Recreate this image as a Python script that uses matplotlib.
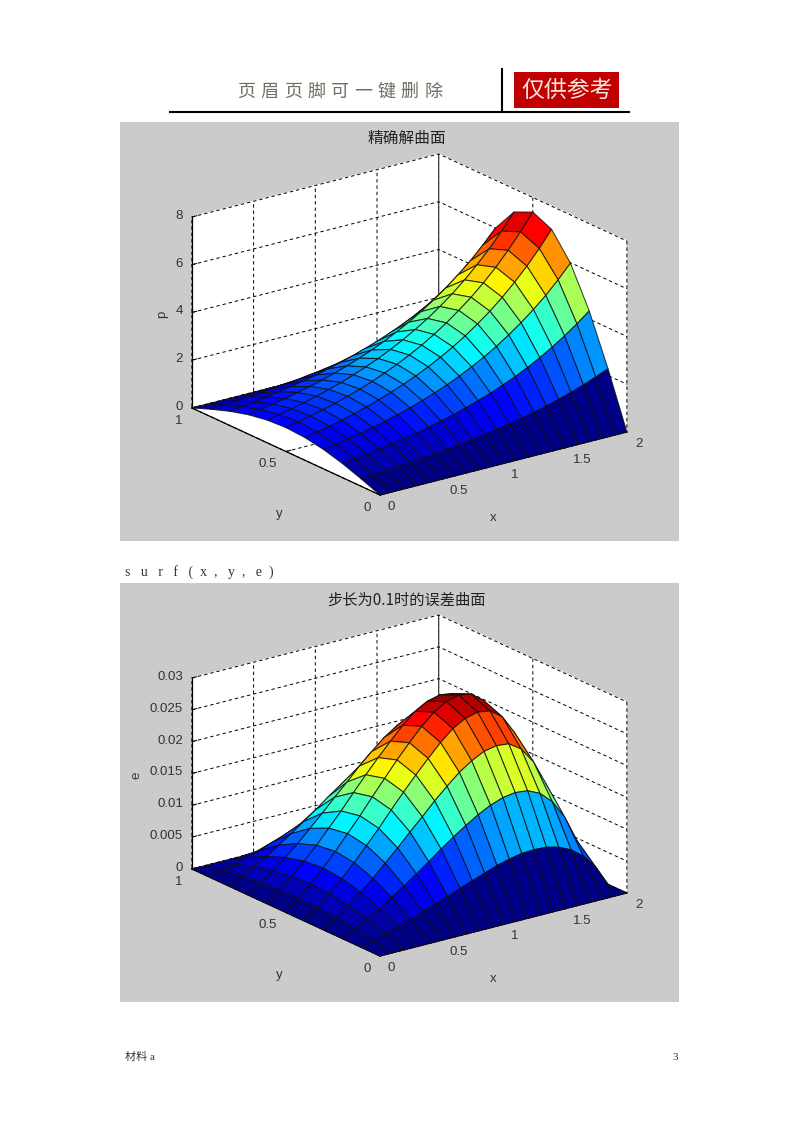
"""Two MATLAB-style surf plots on a scanned document page."""
import matplotlib
matplotlib.use("Agg")
import matplotlib.pyplot as plt
import numpy as np
from matplotlib.colors import LinearSegmentedColormap
from matplotlib.patches import Rectangle
from mpl_toolkits.mplot3d import proj3d

CJK = ["Noto Sans CJK SC", "DejaVu Sans"]
SERIF = ["Liberation Serif", "Noto Sans CJK SC"]

x_grid = np.array([0.0, 0.1, 0.2, 0.3, 0.4, 0.5, 0.6, 0.7, 0.8, 0.9, 1.0,
                   1.1, 1.2, 1.3, 1.4, 1.5, 1.6, 1.7, 1.8, 1.9, 2.0])
y_grid = np.array([0.0, 0.1, 0.2, 0.3, 0.4, 0.5, 0.6, 0.7, 0.8, 0.9, 1.0])

# rows = x, columns = y
p_vals = np.array([
    [0, .31, .59, .81, .95, 1.00, .95, .81, .59, .31, 0],
    [0, .34, .65, .89, 1.05, 1.11, 1.05, .89, .65, .34, 0],
    [0, .38, .72, .99, 1.16, 1.22, 1.16, .99, .72, .38, 0],
    [0, .42, .79, 1.09, 1.28, 1.35, 1.28, 1.09, .79, .42, 0],
    [0, .46, .88, 1.21, 1.42, 1.49, 1.42, 1.21, .88, .46, 0],
    [0, .51, .97, 1.33, 1.57, 1.65, 1.57, 1.33, .97, .51, 0],
    [0, .56, 1.07, 1.47, 1.73, 1.82, 1.73, 1.47, 1.07, .56, 0],
    [0, .62, 1.18, 1.63, 1.92, 2.01, 1.92, 1.63, 1.18, .62, 0],
    [0, .69, 1.31, 1.80, 2.12, 2.23, 2.12, 1.80, 1.31, .69, 0],
    [0, .76, 1.45, 1.99, 2.34, 2.46, 2.34, 1.99, 1.45, .76, 0],
    [0, .84, 1.60, 2.20, 2.59, 2.72, 2.59, 2.20, 1.60, .84, 0],
    [0, .93, 1.77, 2.43, 2.86, 3.00, 2.86, 2.43, 1.77, .93, 0],
    [0, 1.03, 1.95, 2.69, 3.16, 3.32, 3.16, 2.69, 1.95, 1.03, 0],
    [0, 1.13, 2.16, 2.97, 3.49, 3.67, 3.49, 2.97, 2.16, 1.13, 0],
    [0, 1.25, 2.38, 3.28, 3.86, 4.06, 3.86, 3.28, 2.38, 1.25, 0],
    [0, 1.38, 2.63, 3.63, 4.26, 4.48, 4.26, 3.63, 2.63, 1.38, 0],
    [0, 1.53, 2.91, 4.01, 4.71, 4.95, 4.71, 4.01, 2.91, 1.53, 0],
    [0, 1.69, 3.22, 4.43, 5.21, 5.47, 5.21, 4.43, 3.22, 1.69, 0],
    [0, 1.87, 3.56, 4.89, 5.75, 6.05, 5.75, 4.89, 3.56, 1.87, 0],
    [0, 2.07, 3.93, 5.41, 6.36, 6.69, 6.36, 5.41, 3.93, 2.07, 0],
    [0, 2.28, 4.34, 5.98, 7.03, 7.39, 7.03, 5.98, 4.34, 2.28, 0],
])

e_vals = np.array([
    [0, 0, 0, 0, 0, 0, 0, 0, 0, 0, 0],
    [0, .0005, .0010, .0014, .0016, .0017, .0016, .0014, .0010, .0005, 0],
    [0, .0011, .0021, .0028, .0033, .0035, .0033, .0028, .0021, .0011, 0],
    [0, .0017, .0032, .0044, .0052, .0055, .0052, .0044, .0032, .0017, 0],
    [0, .0023, .0045, .0061, .0072, .0076, .0072, .0061, .0045, .0023, 0],
    [0, .0031, .0058, .0080, .0094, .0099, .0094, .0080, .0058, .0031, 0],
    [0, .0038, .0072, .0099, .0116, .0122, .0116, .0099, .0072, .0038, 0],
    [0, .0045, .0086, .0119, .0140, .0147, .0140, .0119, .0086, .0045, 0],
    [0, .0053, .0101, .0138, .0163, .0171, .0163, .0138, .0101, .0053, 0],
    [0, .0060, .0115, .0158, .0185, .0195, .0185, .0158, .0115, .0060, 0],
    [0, .0067, .0128, .0176, .0206, .0217, .0206, .0176, .0128, .0067, 0],
    [0, .0074, .0140, .0193, .0226, .0238, .0226, .0193, .0140, .0074, 0],
    [0, .0079, .0150, .0206, .0243, .0255, .0243, .0206, .0150, .0079, 0],
    [0, .0083, .0157, .0216, .0254, .0267, .0254, .0216, .0157, .0083, 0],
    [0, .0084, .0160, .0220, .0259, .0272, .0259, .0220, .0160, .0084, 0],
    [0, .0083, .0158, .0218, .0256, .0269, .0256, .0218, .0158, .0083, 0],
    [0, .0078, .0149, .0205, .0242, .0254, .0242, .0205, .0149, .0078, 0],
    [0, .0069, .0131, .0180, .0212, .0223, .0212, .0180, .0131, .0069, 0],
    [0, .0054, .0102, .0141, .0165, .0174, .0165, .0141, .0102, .0054, 0],
    [0, .0032, .0060, .0083, .0097, .0102, .0097, .0083, .0060, .0032, 0],
    [0, 0, 0, 0, 0, 0, 0, 0, 0, 0, 0],
])

x_ticks = [0, 0.5, 1, 1.5, 2]
x_labels = ["0", "0.5", "1", "1.5", "2"]
y_ticks = [0, 0.5, 1]
y_labels = ["0", "0.5", "1"]
p_ticks = [0, 2, 4, 6, 8]
p_labels = ["0", "2", "4", "6", "8"]
e_ticks = [0, 0.005, 0.01, 0.015, 0.02, 0.025, 0.03]
e_labels = ["0", "0.005", "0.01", "0.015", "0.02", "0.025", "0.03"]

title_p = "精确解曲面"
title_e = "步长为0.1时的误差曲面"
header_text = "页眉页脚可一键删除"
stamp_text = "仅供参考"
code_text = "s   u   r   f   (  x  ,   y  ,   e  )"

# MATLAB's jet, which is not quite matplotlib's
matlab_jet = LinearSegmentedColormap.from_list("matlab_jet", [
    (0.0, (0, 0, 0.53)), (0.125, (0, 0, 1)), (0.375, (0, 1, 1)), (0.625, (1, 1, 0)),
    (0.875, (1, 0, 0)), (1.0, (0.5, 0, 0))], N=256)

W, H = 800, 1132
TXT = "#333333"
plt.rcParams["grid.color"] = "k"
plt.rcParams["grid.linewidth"] = 0.7
plt.rcParams["grid.linestyle"] = (0, (3.5, 3))
plt.rcParams["font.family"] = ["Liberation Sans", "DejaVu Sans"]

fig = plt.figure(figsize=(W / 100, H / 100), dpi=100, facecolor="white")
bg = fig.add_axes([0, 0, 1, 1])
bg.set_xlim(0, W)
bg.set_ylim(H, 0)
bg.axis("off")


def corners_px(ax, pts):
    xs, ys, _ = proj3d.proj_transform(*np.array(pts, float).T, ax.get_proj())
    return ax.transData.transform(np.c_[xs, ys])


def tick_labels(ax, pts, labels, dx, dy, ha):
    # tick labels sit at a fixed pixel offset from the projected tick
    for (px, py), lab in zip(corners_px(ax, pts), labels):
        bg.text(px + dx, H - py + dy, lab, fontsize=9.5, color=TXT, ha=ha, va="center")


def surf_panel(top, Z, zticks, zlabels, zname, zname_x):
    bottom_px = top + 373   # pixel row of the (x=0, y=0) corner
    side = 600.0
    ax = fig.add_axes([100 / W, 1 - (top + 500) / H, side / W, side / H], projection="3d")
    ax.patch.set_alpha(0)
    ax.set_proj_type("ortho")
    ax.view_init(elev=20.1, azim=-126.6)
    ax.set_box_aspect((307, 315, 203))
    ax.set_xlim(0, 2)
    ax.set_ylim(0, 1)
    ax.set_zlim(zticks[0], zticks[-1])

    X, Y = np.meshgrid(x_grid, y_grid, indexing="ij")
    lev = np.floor((Z - Z.min()) / (Z.max() - Z.min()) * 63.999) / 63
    surf = ax.plot_surface(X, Y, Z, rstride=1, cstride=1, shade=False,
                           facecolors=matlab_jet(lev), linewidth=0.75, antialiased=True)
    surf.set_edgecolor((0.05, 0.05, 0.05, 0.8))

    ax.set_xticks(x_ticks)
    ax.set_yticks(y_ticks)
    ax.set_zticks(zticks)
    for axis in (ax.xaxis, ax.yaxis, ax.zaxis):
        axis.set_ticklabels([])
        axis.set_pane_color((1, 1, 1, 1))
        axis.pane.set_edgecolor((1, 1, 1, 0))
        axis.line.set_color("k")
        axis.line.set_linewidth(0.9)
        axis._axinfo["tick"]["inward_factor"] = 0.0
        axis._axinfo["tick"]["outward_factor"] = 0.25
        axis._axinfo["tick"]["linewidth"] = {True: 0.7, False: 0.7}

    # scale and shift the axes so the box corners land on the page pixels
    a, b, c = corners_px(ax, [(0, 0, 0), (2, 0, 0), (0, 1, 0)])
    side = side * 435.0 / (b[0] - c[0])
    ax.set_position([100 / W, 1 - (top + 500) / H, side / W, side / H])
    a = corners_px(ax, [(0, 0, 0)])[0]
    pos = ax.get_position()
    ax.set_position([pos.x0 + (380 - a[0]) / W, pos.y0 + (H - bottom_px - a[1]) / H,
                     side / W, side / H])

    tick_labels(ax, [(t, 0, 0) for t in x_ticks], x_labels, 8, 12, "left")
    tick_labels(ax, [(0, t, 0) for t in y_ticks], y_labels, -9, 13, "right")
    tick_labels(ax, [(0, 1, t) for t in zticks], zlabels, -9, -1, "right")
    bg.text(493, top + 396, "x", fontsize=9.5, color=TXT, ha="center", va="center")
    bg.text(279, top + 392, "y", fontsize=9.5, color=TXT, ha="center", va="center")
    bg.text(zname_x, top + 192, zname, fontsize=9.5, color=TXT, rotation=90, ha="center", va="center")
    return ax


# page furniture
for ptop in (122, 583):
    bg.add_patch(Rectangle((120, ptop), 559, 419, fc="#cbcbcb", ec="none"))
bg.plot([170, 629], [112, 112], color="k", lw=1.5)
bg.plot([502, 502], [69, 112], color="k", lw=1.5)
bg.add_patch(Rectangle((514, 72), 105, 36, fc="#c00000", ec="none"))
for i, ch in enumerate(header_text):
    bg.text(246 + i * 23.4, 92, ch, family=CJK, fontsize=13, color="#6e6e62", ha="center", va="center")
bg.text(567, 90, stamp_text, family=CJK, fontsize=16.5, color="#f6e8e0", ha="center", va="center")
bg.text(407, 138, title_p, family=CJK, fontsize=11.3, color="#222222", ha="center", va="center")
bg.text(407, 600, title_e, family=CJK, fontsize=11, color="#222222", ha="center", va="center")
bg.text(125, 572, code_text, family=SERIF, fontsize=10, color=TXT, va="center")
bg.text(125, 1057, "材料 a", family=SERIF, fontsize=8, color=TXT, va="center")
bg.text(675, 1057, "3", family=SERIF, fontsize=8, color=TXT, va="center", ha="center")

surf_panel(122, p_vals, p_ticks, p_labels, "p", 162)
surf_panel(583, e_vals, e_ticks, e_labels, "e", 137)

fig.savefig("out.png", dpi=100)
